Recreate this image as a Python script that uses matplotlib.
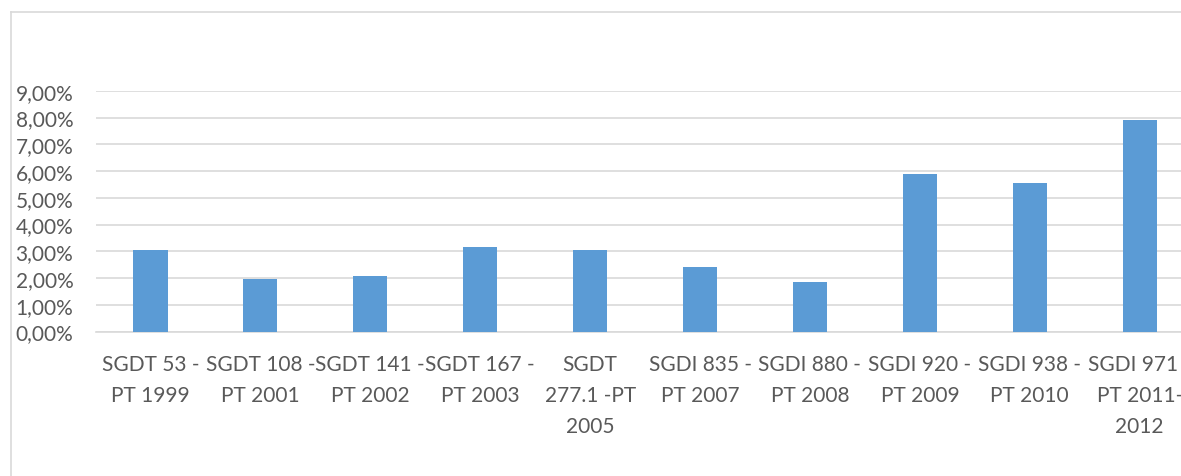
import matplotlib.pyplot as plt
from matplotlib.lines import Line2D
from matplotlib.ticker import FuncFormatter, MultipleLocator

# categorias e valores (%)
categorias = ["SGDT 53 -\nPT 1999", "SGDT 108 -\nPT 2001", "SGDT 141 -\nPT 2002",
              "SGDT 167 -\nPT 2003", "SGDT\n277.1 -PT\n2005", "SGDI 835 -\nPT 2007",
              "SGDI 880 -\nPT 2008", "SGDI 920 -\nPT 2009", "SGDI 938 -\nPT 2010",
              "SGDI 971 -\nPT 2011-\n2012"]
valores = [3.05, 1.97, 2.08, 3.17, 3.04, 2.43, 1.85, 5.89, 5.56, 7.92]

cor_barra = "#5B9BD5"
cor_texto = "#595959"
cor_grade = "#D9D9D9"

plt.rcParams['font.family'] = ['Lato', 'DejaVu Sans']

fig = plt.figure(figsize=(11.81, 4.77), dpi=100)
ax = fig.add_axes([0.0809, 0.3029, 0.9306, 0.5046])

x = range(len(valores))
ax.bar(x, valores, width=0.31, color=cor_barra, zorder=3)

ax.set_xlim(-0.5, len(valores) - 0.5)
ax.set_ylim(0, 9)
ax.yaxis.set_major_locator(MultipleLocator(1))
ax.yaxis.set_major_formatter(FuncFormatter(lambda v, p: f"{v:.2f}".replace(".", ",") + "%"))
ax.grid(axis='y', color=cor_grade, linewidth=1.2, zorder=0)

ax.set_xticks(list(x))
ax.set_xticklabels(categorias, linespacing=1.7)
ax.tick_params(axis='x', length=0, pad=16, labelsize=15, labelcolor=cor_texto)
ax.tick_params(axis='y', length=0, pad=16, labelsize=15, labelcolor=cor_texto)
for lbl in ax.get_xticklabels():
    lbl.set_verticalalignment('top')

for s in ['top', 'right', 'left']:
    ax.spines[s].set_visible(False)
ax.spines['bottom'].set_color(cor_grade)
ax.spines['bottom'].set_linewidth(1.2)

# borda da área do gráfico
fig.add_artist(Line2D([10.5 / 1181, 10.5 / 1181], [0, 1 - 12.5 / 477], color=cor_grade, lw=1.2))
fig.add_artist(Line2D([10.5 / 1181, 1], [1 - 12.5 / 477, 1 - 12.5 / 477], color=cor_grade, lw=1.2))

fig.savefig('out.png', dpi=100)
